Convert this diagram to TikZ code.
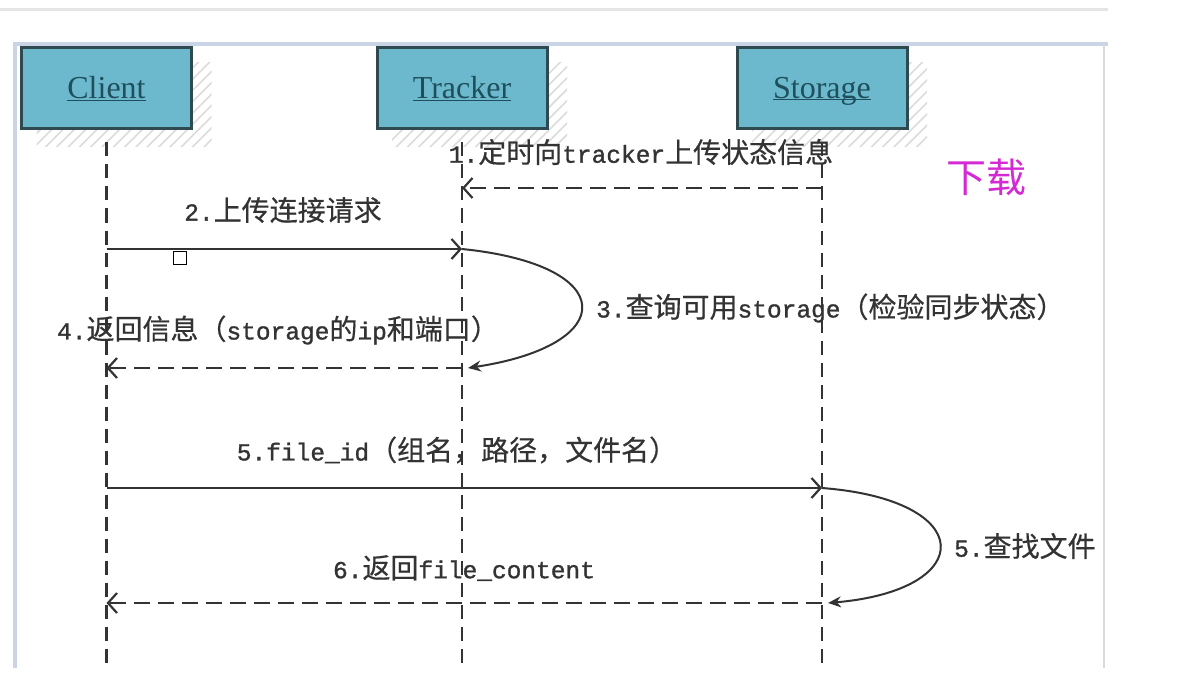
\documentclass[tikz,border=0pt]{standalone}
\usepackage{fontspec}
\setmainfont{Liberation Serif}
\newfontfamily\cjk[FakeBold=0.5]{Noto Sans CJK SC}
\newfontfamily\cjkthin{Noto Sans CJK SC}
\newfontfamily\latmono[FakeBold=1.2]{Liberation Mono}
\newcommand\lm[1]{{\latmono\fontsize{24.5}{30}\selectfont #1}}
\usetikzlibrary{arrows.meta,patterns.meta}
\definecolor{sqbox}{HTML}{6CB9CE}
\definecolor{sqedge}{HTML}{2E4A50}
\definecolor{sqink}{HTML}{333333}
\definecolor{sqname}{HTML}{1F4F5C}
\definecolor{sqframe}{HTML}{C9D5E6}
\definecolor{sqmagenta}{HTML}{D42AD4}

\begin{document}
\begin{tikzpicture}[
  x=1pt,y=-1pt,
  font=\cjk\fontsize{28}{30}\selectfont,
  actor/.style={draw=sqedge,line width=3pt,fill=sqbox,minimum width=170pt,
    minimum height=81pt,inner sep=0pt,
    font=\rmfamily\fontsize{32}{34}\selectfont,text=sqname},
  shade/.style={pattern={Lines[angle=45,distance=8pt,line width=1.6pt]},pattern color=black!14},
  lifeline/.style={draw=sqink,line width=2.2pt,dash pattern=on 14pt off 8pt},
  call/.style={draw=sqink,line width=2.2pt,-{Straight Barb[length=9pt,width=20pt]}},
  reply/.style={call,dash pattern=on 16pt off 8pt},
  self/.style={draw=sqink,line width=2pt,-{Stealth[length=13pt,width=11pt]}},
  msg/.style={text=sqink,inner sep=0pt}
]
  \path[use as bounding box] (0,0) rectangle (1188,679);
  \draw[black!10,line width=3pt] (0,10)--(1108,10);
  \draw[sqframe,line width=3.5pt] (15,668)--(15,44)--(1108,44);
  \draw[black!15,line width=1.5pt] (1104,44)--(1104,668);
  \foreach \x/\name/\lab in {106.5/client/Client,462/tracker/Tracker,822/storage/Storage}{
    \path[shade] (\x-70,63) rectangle (\x+105,147);
    \node[actor] (\name) at (\x,88.5) {\underline{\raisebox{0pt}[\height][0pt]{\lab}}};
    \draw[lifeline] ([yshift=-12pt]\name.south) -- (\name.south |- 0,668);
  }
  \coordinate (s1) at (storage |- 0,188);
  \coordinate (t1) at (tracker |- 0,188);
  \coordinate (c2) at (client |- 0,249);
  \coordinate (t2) at (tracker |- 0,249);
  \coordinate (t4) at (tracker |- 0,368);
  \coordinate (c4) at (client |- 0,368);
  \coordinate (c5) at (client |- 0,488);
  \coordinate (s5) at (storage |- 0,488);
  \coordinate (s6) at (storage |- 0,603);
  \coordinate (c6) at (client |- 0,603);
  \node[draw=black,fill=white,line width=1.5pt,minimum size=13pt,inner sep=0pt] (mark) at (180,258) {};
  \draw[reply] (s1) -- (t1);
  \draw[call] (c2) -- (t2);
  \draw[self] (t2) .. controls (620,265) and (620,345) .. ([xshift=6pt]t4);
  \draw[reply] (t4) -- (c4);
  \draw[call] (c5) -- (s5);
  \draw[self] (s5) .. controls (978,500) and (978,590) .. ([xshift=6pt]s6);
  \draw[reply] (s6) -- (c6);
  \node[msg] (m1) at (641,152) {\lm{1.}定时向\lm{tracker}上传状态信息};
  \node[msg] (m2) at (283,210) {\lm{2.}上传连接请求};
  \node[msg,anchor=west] (m3) at (596,308) {\lm{3.}查询可用\lm{storage}（检验同步状态）};
  \node[msg] (m4) at (278,330) {\lm{4.}返回信息（\lm{storage}的\lm{ip}和端口）};
  \node[msg] (m5) at (457,450) {\lm{5.file\_id}（组名，路径，文件名）};
  \node[msg,anchor=west] (m5b) at (954,546) {\lm{5.}查找文件};
  \node[msg] (m6) at (464,568) {\lm{6.}返回\lm{file\_content}};
  \node[text=sqmagenta,font=\cjkthin\fontsize{40}{44}\selectfont] (title) at (986,177) {下载};
\end{tikzpicture}
\end{document}
